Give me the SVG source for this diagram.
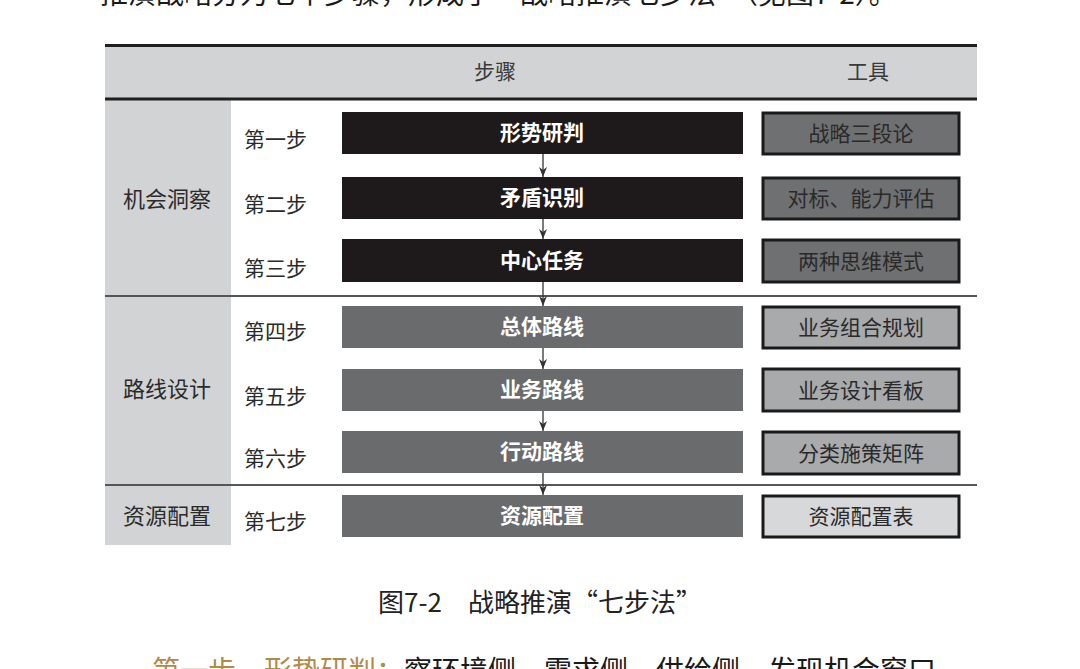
<svg xmlns="http://www.w3.org/2000/svg" width="1080" height="669" viewBox="0 0 1080 669">
<style>
  text { font-family: "Noto Sans CJK SC", "Noto Sans", sans-serif; }
  .hdr { font-size: 21px; fill: #3a3a3a; text-anchor: middle; }
  .cat { font-size: 22px; fill: #2b2b2b; text-anchor: middle; }
  .stp { font-size: 21px; fill: #2b2b2b; }
  .box-dark { fill: #1e1a1b; }
  .box-mid { fill: #6a6b6d; }
  .btxt { font-size: 21px; font-weight: bold; fill: #ffffff; text-anchor: middle; }
  .tool { stroke: #1a1a1a; stroke-width: 3; }
  .ttxt { font-size: 21px; fill: #2a2a2a; text-anchor: middle; }
  .sep { stroke: #555657; stroke-width: 2; }
  .thick { stroke: #1f1f1f; stroke-width: 3; }
  .conn { stroke: #333333; stroke-width: 1.3; fill: none; marker-end: url(#arr); }
  .body { font-size: 28px; fill: #1a1a1a; }
</style>
<defs>
  <marker id="arr" viewBox="0 0 10 8" refX="10" refY="4" markerWidth="10" markerHeight="8" markerUnits="userSpaceOnUse" orient="auto">
    <path d="M0,0 L10,4 L0,8 L3,4 Z" fill="#333333"/>
  </marker>
</defs>
<rect width="1080" height="669" fill="#ffffff"/>

<!-- clipped body text lines -->
<text class="body" x="100" y="4">推演战略分为七个步骤，形成了“战略推演七步法”（见图7-2）。</text>
<text class="body" x="152" y="681"><tspan fill="#b08a4a">第一步　形势研判：</tspan><tspan>察环境侧、需求侧、供给侧，发现机会窗口</tspan></text>

<!-- table frame -->
<g id="table">
  <rect x="105" y="46" width="872" height="53" fill="#d1d3d4"/>
  <rect x="105" y="100" width="126" height="445" fill="#d1d3d4"/>
  <line class="thick" x1="105" y1="45.5" x2="977" y2="45.5"/>
  <line class="thick" x1="105" y1="99" x2="977" y2="99"/>
  <line class="sep" x1="105" y1="296" x2="977" y2="296"/>
  <line class="sep" x1="105" y1="485" x2="977" y2="485"/>
  <text class="hdr" x="495" y="79">步骤</text>
  <text class="hdr" x="868" y="79">工具</text>
</g>

<g id="cat-1"><text class="cat" x="167" y="207">机会洞察</text></g>
<g id="cat-2"><text class="cat" x="167" y="397">路线设计</text></g>
<g id="cat-3"><text class="cat" x="167" y="524">资源配置</text></g>

<g id="labels">
  <text class="stp" x="244" y="147">第一步</text>
  <text class="stp" x="244" y="212">第二步</text>
  <text class="stp" x="244" y="276">第三步</text>
  <text class="stp" x="244" y="339">第四步</text>
  <text class="stp" x="244" y="404">第五步</text>
  <text class="stp" x="244" y="466">第六步</text>
  <text class="stp" x="244" y="529">第七步</text>
</g>

<g id="step-1"><rect class="box-dark" x="342" y="112" width="401" height="42"/><text class="btxt" x="542" y="140">形势研判</text></g>
<g id="step-2"><rect class="box-dark" x="342" y="177" width="401" height="42"/><text class="btxt" x="542" y="205">矛盾识别</text></g>
<g id="step-3"><rect class="box-dark" x="342" y="239" width="401" height="43"/><text class="btxt" x="542" y="268">中心任务</text></g>
<g id="step-4"><rect class="box-mid" x="342" y="306" width="401" height="42"/><text class="btxt" x="542" y="334">总体路线</text></g>
<g id="step-5"><rect class="box-mid" x="342" y="369" width="401" height="42"/><text class="btxt" x="542" y="397">业务路线</text></g>
<g id="step-6"><rect class="box-mid" x="342" y="431" width="401" height="42"/><text class="btxt" x="542" y="459">行动路线</text></g>
<g id="step-7"><rect class="box-mid" x="342" y="495" width="401" height="42"/><text class="btxt" x="542" y="523">资源配置</text></g>

<!-- connectors -->
<g id="connectors">
  <line class="conn" x1="543" y1="154" x2="543" y2="177"/>
  <line class="conn" x1="543" y1="219" x2="543" y2="239"/>
  <line class="conn" x1="543" y1="282" x2="543" y2="306"/>
  <line class="conn" x1="543" y1="348" x2="543" y2="369"/>
  <line class="conn" x1="543" y1="411" x2="543" y2="431"/>
  <line class="conn" x1="543" y1="473" x2="543" y2="495"/>
</g>

<g id="tool-1"><rect class="tool" x="763" y="113" width="196" height="41" fill="#6f7072"/><text class="ttxt" x="861" y="141">战略三段论</text></g>
<g id="tool-2"><rect class="tool" x="763" y="178" width="196" height="41" fill="#6f7072"/><text class="ttxt" x="861" y="206">对标、能力评估</text></g>
<g id="tool-3"><rect class="tool" x="763" y="240" width="196" height="42" fill="#6f7072"/><text class="ttxt" x="861" y="269">两种思维模式</text></g>
<g id="tool-4"><rect class="tool" x="763" y="307" width="196" height="41" fill="#a8aaac"/><text class="ttxt" x="861" y="335">业务组合规划</text></g>
<g id="tool-5"><rect class="tool" x="763" y="369" width="196" height="42" fill="#a8aaac"/><text class="ttxt" x="861" y="398">业务设计看板</text></g>
<g id="tool-6"><rect class="tool" x="763" y="432" width="196" height="42" fill="#a8aaac"/><text class="ttxt" x="861" y="461">分类施策矩阵</text></g>
<g id="tool-7"><rect class="tool" x="763" y="496" width="196" height="41" fill="#d7d8d9"/><text class="ttxt" x="861" y="524">资源配置表</text></g>

<g id="caption"><text x="540" y="612" font-size="26" fill="#222222" text-anchor="middle">图7-2　战略推演“七步法”</text></g>
</svg>
